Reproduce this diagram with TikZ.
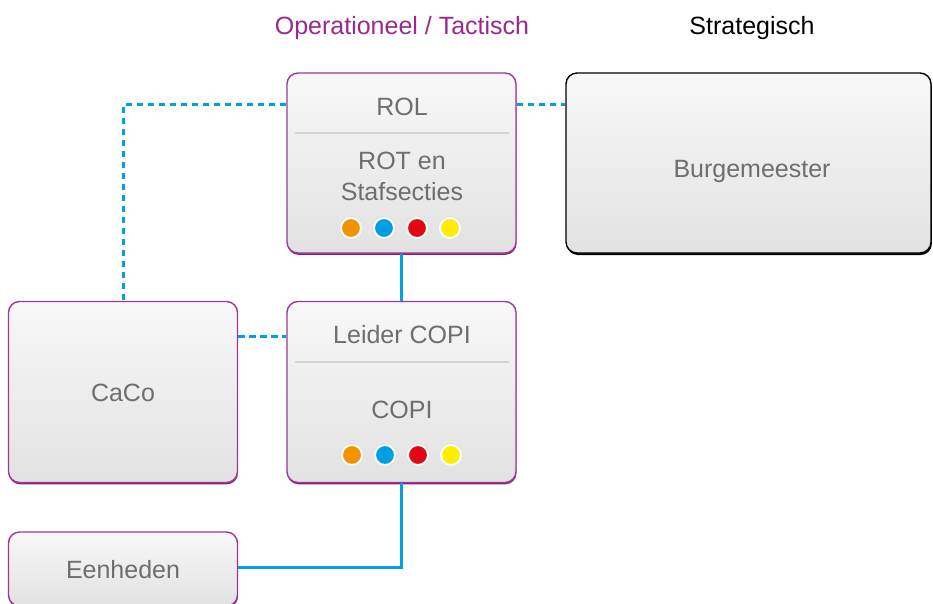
\documentclass[tikz,border=0pt]{standalone}
\usepackage{fontspec}
\setmainfont{Liberation Sans}
\usetikzlibrary{shadows}
\definecolor{boxpurple}{RGB}{160,55,150}
\definecolor{purpshadow}{RGB}{140,30,125}
\definecolor{headpurple}{RGB}{155,40,140}
\definecolor{txtgray}{RGB}{110,110,110}
\definecolor{linkblue}{RGB}{0,160,227}
\definecolor{dorange}{RGB}{243,146,0}
\definecolor{dblue}{RGB}{0,159,227}
\definecolor{dred}{RGB}{227,6,19}
\definecolor{dyellow}{RGB}{255,237,0}
\definecolor{topfill}{RGB}{248,248,248}
\definecolor{botfill}{RGB}{226,226,226}
\tikzset{
  pbox/.style={draw=boxpurple, line width=1.4pt, rounded corners=11pt,
    top color=topfill, bottom color=botfill, inner sep=0pt,
    general shadow={fill=purpshadow, shadow xshift=0.4pt, shadow yshift=-1.8pt}},
  kbox/.style={draw=black, line width=1.4pt, rounded corners=11pt,
    top color=topfill, bottom color=botfill, inner sep=0pt,
    general shadow={fill=black, shadow xshift=0.8pt, shadow yshift=-2pt}},
  lbl/.style={anchor=base, text=txtgray, inner sep=0pt, font=\fontsize{25pt}{30pt}\selectfont},
  head/.style={anchor=base, inner sep=0pt, font=\fontsize{25pt}{30pt}\selectfont},
  dot/.style={circle, minimum size=20pt, inner sep=0pt, draw=white, line width=2pt,
    preaction={draw=black!12, line width=3.6pt}},
  dotline/.style={draw=linkblue, line width=3pt, dash pattern=on 6.5pt off 4.5pt},
  solidline/.style={draw=linkblue, line width=2.8pt},
  sepline/.style={draw=black!17, line width=1.6pt}
}
\begin{document}
\begin{tikzpicture}[x=1pt, y=-1pt]
\useasboundingbox (0,0) rectangle (933,604);
\clip (0,0) rectangle (933,604);
\fill[white] (0,0) rectangle (933,604);

% headings
\node[head, text=headpurple] (hop) at (402,35) {Operationeel / Tactisch};
\node[head, text=black] (hst) at (752,35) {Strategisch};

% boxes
\node[pbox, minimum width=229pt, minimum height=180pt] (rol) at (401.5,163) {};
\node[pbox, minimum width=229pt, minimum height=181pt] (copi) at (401.5,392) {};
\node[pbox, minimum width=229pt, minimum height=181pt] (caco) at (123,392) {};
\node[pbox, minimum width=229pt, minimum height=74pt] (een) at (123,569) {};
\node[kbox, minimum width=365pt, minimum height=180pt] (burg) at (748.5,163) {};

% connectors
\draw[dotline] ([yshift=58pt]rol.west) -| (caco.north);
\draw[dotline] ([yshift=58pt]rol.east) -- ([yshift=58pt]burg.west);
\draw[dotline] ([yshift=56pt]caco.east) -- ([yshift=56pt]copi.west);
\draw[solidline] (rol.south) -- (copi.north);
\draw[solidline] (copi.south) |- ([yshift=1.5pt]een.east);

% separators
\draw[sepline] (295,133) -- (509,133);
\draw[sepline] (295,362) -- (509,362);

% labels
\node[lbl] (trol) at (402,116) {ROL};
\node[lbl] (trot) at (402,170) {ROT en};
\node[lbl] (tstaf) at (402,200) {Stafsecties};
\node[lbl] (tleid) at (402,343) {Leider COPI};
\node[lbl] (tcopi) at (402,418) {COPI};
\node[lbl] (tcaco) at (123,401) {CaCo};
\node[lbl] (teen) at (123,578) {Eenheden};
\node[lbl] (tburg) at (752,177) {Burgemeester};

% dots
\node[dot, fill=dorange] (a1) at (351,228) {};
\node[dot, fill=dblue] (a2) at (384,228) {};
\node[dot, fill=dred] (a3) at (417,228) {};
\node[dot, fill=dyellow] (a4) at (450,228) {};
\node[dot, fill=dorange] (b1) at (352,455) {};
\node[dot, fill=dblue] (b2) at (385,455) {};
\node[dot, fill=dred] (b3) at (418,455) {};
\node[dot, fill=dyellow] (b4) at (451,455) {};
\end{tikzpicture}
\end{document}
